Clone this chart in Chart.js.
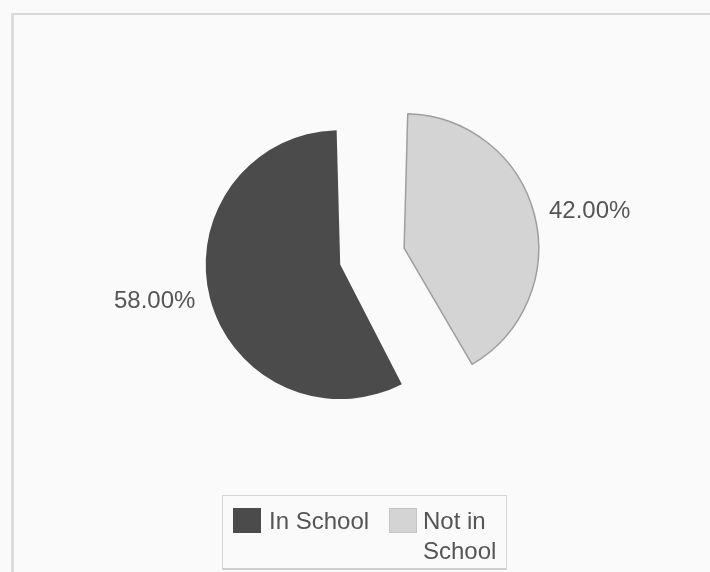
<!DOCTYPE html>
<html>
<head>
<meta charset="utf-8">
<script src="https://cdn.jsdelivr.net/npm/chart.js@4.4.1/dist/chart.umd.min.js"></script>
<style>
    body { margin: 0; background: #fafafa; }
    #wrap { position: relative; width: 710px; height: 572px; overflow: hidden; }
    #frame { position: absolute; left: 11px; top: 13px; width: 720px; height: 600px;
             border-left: 3px solid #dcdcdc; border-top: 2px solid #d8d8d8; }
    #legend { position: absolute; left: 222px; top: 495px; width: 283px; height: 72px;
              border: 1px solid #d6d6d6; border-bottom: 2px solid #cfcfcf;
              font-family: "Liberation Sans", Arial, sans-serif; font-size: 24px; color: #555; }
    .sw { position: absolute; width: 28px; height: 25px; }
    .lt { position: absolute; line-height: 30px; }
</style>
</head>
<body>
<div id="wrap">
    <div id="frame"></div>
    <canvas id="pieChart" width="710" height="572"></canvas>
    <div id="legend"></div>
</div>
<script>
const labels = ["In School", "Not in School"];
const values = [58.00, 42.00];
const colors = ["#4b4b4b", "#d4d4d4"];
const borders = ["#4b4b4b", "#9e9e9e"];

// v4 moves an arc by offset/4 and grows it by offset/4 * (1 - sin(circumference)),
// so the smaller slice gets a bigger offset to end up the same size
function drawnShift(arc) {
    const off = arc.options.offset / 4;
    const circ = arc.endAngle - arc.startAngle;
    return { move: off, grow: off * (1 - Math.sin(Math.min(Math.PI, circ))) };
}

// percentage labels next to each slice
const sliceLabels = {
    id: "sliceLabels",
    afterDatasetsDraw(chart) {
        const ctx = chart.ctx;
        const meta = chart.getDatasetMeta(0);
        ctx.save();
        ctx.font = "24px 'Liberation Sans', Arial, sans-serif";
        ctx.fillStyle = "#555";
        ctx.textBaseline = "middle";
        meta.data.forEach((arc, i) => {
            const p = arc.getProps(["x", "y", "startAngle", "endAngle", "outerRadius"], true);
            const mid = (p.startAngle + p.endAngle) / 2;
            const s = drawnShift(arc);
            const r = s.move + s.grow + p.outerRadius + 15;
            const px = p.x + Math.cos(mid) * r;
            const py = p.y + Math.sin(mid) * r;
            ctx.textAlign = Math.cos(mid) < 0 ? "right" : "left";
            ctx.fillText(values[i].toFixed(2) + "%", px, py);
        });
        ctx.restore();
    }
};

new Chart(document.getElementById("pieChart").getContext("2d"), {
    type: "pie",
    data: {
        labels: labels,
        datasets: [{
            data: values,
            backgroundColor: colors,
            borderColor: borders,
            borderWidth: [0, 1.5],
            offset: [90, 174],
            radius: 112
        }]
    },
    options: {
        responsive: false,
        animation: false,
        rotation: 151.2,
        layout: { padding: { left: 14, right: 0, top: 0, bottom: 54 } },
        plugins: {
            legend: { display: false },
            tooltip: { enabled: false }
        }
    },
    plugins: [sliceLabels]
});

// legend box under the pie
const legend = document.getElementById("legend");
legend.innerHTML = `
    <div class="sw" style="left:10px;top:12px;background:${colors[0]}"></div>
    <div class="lt" style="left:46px;top:10px">${labels[0]}</div>
    <div class="sw" style="left:166px;top:12px;background:${colors[1]};border:1px solid #c4c4c4;box-sizing:border-box"></div>
    <div class="lt" style="left:200px;top:10px;width:80px">Not in<br>School</div>
`;
</script>
</body>
</html>
